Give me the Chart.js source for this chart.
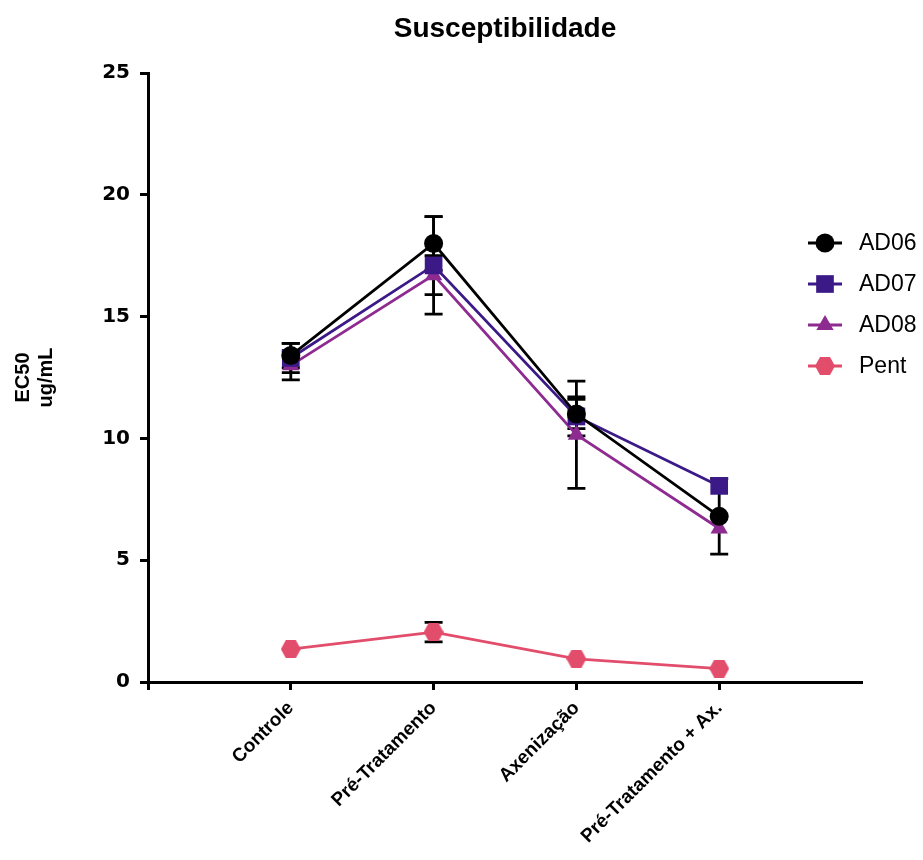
<!DOCTYPE html>
<html><head><meta charset="utf-8">
<script src="https://cdn.jsdelivr.net/npm/chart.js@4"></script>
<style>html,body{margin:0;padding:0;background:#fff}#wrap{width:923px;height:860px;position:relative}</style>
</head><body><div id="wrap"><canvas id="c" width="923" height="860"></canvas></div>
<script>
const chartTitle = 'Susceptibilidade';
const categories = ['Controle', 'Pré-Tratamento', 'Axenização', 'Pré-Tratamento + Ax.'];
const seriesNames = ['AD06', 'AD07', 'AD08', 'Pent'];
const ad06 = [13.4, 18.0, 11.0, 6.8];
const ad06Err = [0.5, 1.1, 0.6, 1.55];
const ad07 = [13.3, 17.1, 10.9, 8.05];
const ad07Err = [0.6, 2.0, 0.8, 0];
const ad08 = [13.0, 16.7, 10.15, 6.3];
const ad08Err = [0.6, 0.8, 2.2, 0];
const pent = [1.35, 2.05, 0.95, 0.55];
const pentErr = [0, 0.4, 0, 0];
const yTicks = [0, 5, 10, 15, 20, 25];
const yTitle = ['EC50', 'ug/mL'];

const colors = ['#000000', '#3b1a87', '#8e2b91', '#e24d6c'];

function makeHex(color, w, h) {
  const c = document.createElement('canvas');
  c.width = w; c.height = h;
  const g = c.getContext('2d');
  g.fillStyle = color;
  g.beginPath();
  g.moveTo(0, h / 2); g.lineTo(w * 0.25, 0); g.lineTo(w * 0.75, 0);
  g.lineTo(w, h / 2); g.lineTo(w * 0.75, h); g.lineTo(w * 0.25, h);
  g.closePath(); g.fill();
  return c;
}
const hex = makeHex(colors[3], 20, 18);

const styles = [
  { pointStyle: 'circle', radius: 9.5 },
  { pointStyle: 'rect', radius: 12.5 },
  { pointStyle: 'triangle', radius: 10 },
  { pointStyle: hex, radius: 9.5 }
];
const values = [ad06, ad07, ad08, pent];
const errs = [ad06Err, ad07Err, ad08Err, pentErr];

const datasets = values.map((vals, k) => ({
  label: seriesNames[k],
  data: vals.map((v, i) => ({ x: i + 1, y: v })),
  err: errs[k],
  borderColor: colors[k],
  backgroundColor: colors[k],
  pointBackgroundColor: colors[k],
  pointBorderColor: colors[k],
  pointBorderWidth: 0,
  pointStyle: styles[k].pointStyle,
  pointRadius: styles[k].radius,
  pointHoverRadius: styles[k].radius,
  borderWidth: 2.8,
  tension: 0,
  fill: false
}));

const errorBars = {
  id: 'errorBars',
  beforeDatasetsDraw(chart) {
    const ctx = chart.ctx, ys = chart.scales.y;
    ctx.save();
    ctx.strokeStyle = '#000';
    ctx.lineWidth = 2.8;
    chart.data.datasets.forEach((ds, k) => {
      const meta = chart.getDatasetMeta(k);
      meta.data.forEach((pt, i) => {
        const v = ds.data[i].y, e = ds.err[i];
        if (!e) return;
        const y1 = ys.getPixelForValue(v + e), y2 = ys.getPixelForValue(v - e);
        const x = pt.x, hw = 9;
        ctx.beginPath();
        ctx.moveTo(x, y1); ctx.lineTo(x, y2);
        ctx.moveTo(x - hw, y1); ctx.lineTo(x + hw, y1);
        ctx.moveTo(x - hw, y2); ctx.lineTo(x + hw, y2);
        ctx.stroke();
      });
    });
    ctx.restore();
  }
};

const titleAndLegend = {
  id: 'titleAndLegend',
  afterDraw(chart) {
    const ctx = chart.ctx, ca = chart.chartArea;
    ctx.save();
    ctx.fillStyle = '#000';
    ctx.font = 'bold 28px "Liberation Sans", Arial, sans-serif';
    ctx.textAlign = 'center';
    ctx.textBaseline = 'alphabetic';
    ctx.fillText(chartTitle, (ca.left + ca.right) / 2, 37);
    // legend
    const lx = 825, ly0 = 243, dy = 41;
    chart.data.datasets.forEach((ds, k) => {
      const y = ly0 + dy * k;
      ctx.strokeStyle = colors[k];
      ctx.lineWidth = 3;
      ctx.beginPath(); ctx.moveTo(lx - 17, y); ctx.lineTo(lx + 17, y); ctx.stroke();
      ctx.fillStyle = colors[k];
      Chart.helpers.drawPoint(ctx, { pointStyle: styles[k].pointStyle, radius: styles[k].radius, borderWidth: 0, rotation: 0 }, lx, y);
      ctx.fillStyle = '#000';
      ctx.font = '23px "Liberation Sans", Arial, sans-serif';
      ctx.textAlign = 'left';
      ctx.textBaseline = 'middle';
      ctx.fillText(ds.label, 859, y + 1);
    });
    ctx.restore();
  }
};

new Chart(document.getElementById('c'), {
  type: 'line',
  data: { datasets },
  options: {
    responsive: false,
    animation: false,
    devicePixelRatio: 1,
    layout: { padding: { top: 73, right: 61, bottom: 0, left: 0 } },
    plugins: { legend: { display: false }, title: { display: false }, tooltip: { enabled: false } },
    scales: {
      x: {
        type: 'linear', min: 0, max: 5,
        afterBuildTicks: s => { s.ticks = [0, 1, 2, 3, 4].map(v => ({ value: v })); },
        ticks: {
          autoSkip: false, minRotation: 45, maxRotation: 45, padding: 7, color: '#000',
          font: { family: '"Liberation Sans", Arial, sans-serif', size: 19, weight: 'bold' },
          callback: v => (v >= 1 && v <= categories.length) ? categories[v - 1] : ''
        },
        grid: { display: true, drawOnChartArea: false, drawTicks: true, tickLength: 8, tickWidth: 3, tickColor: '#000' },
        border: { display: true, color: '#000', width: 3 },
        afterFit: s => { s.height = 178; }
      },
      y: {
        min: 0, max: 25,
        afterBuildTicks: s => { s.ticks = yTicks.map(v => ({ value: v })); },
        ticks: {
          padding: 10, color: '#000',
          font: { family: '"DejaVu Sans", sans-serif', size: 20, weight: 'bold' }
        },
        grid: { display: true, drawOnChartArea: false, drawTicks: true, tickLength: 8, tickWidth: 3, tickColor: '#000' },
        border: { display: true, color: '#000', width: 3 },
        title: {
          display: true, text: yTitle, color: '#000',
          font: { family: '"Liberation Sans", Arial, sans-serif', size: 20, weight: 'bold', lineHeight: 1.15 },
          padding: { top: 12, bottom: 0 }
        },
        afterFit: s => { s.width = 148; }
      }
    }
  },
  plugins: [errorBars, titleAndLegend]
});
</script>
</body></html>
